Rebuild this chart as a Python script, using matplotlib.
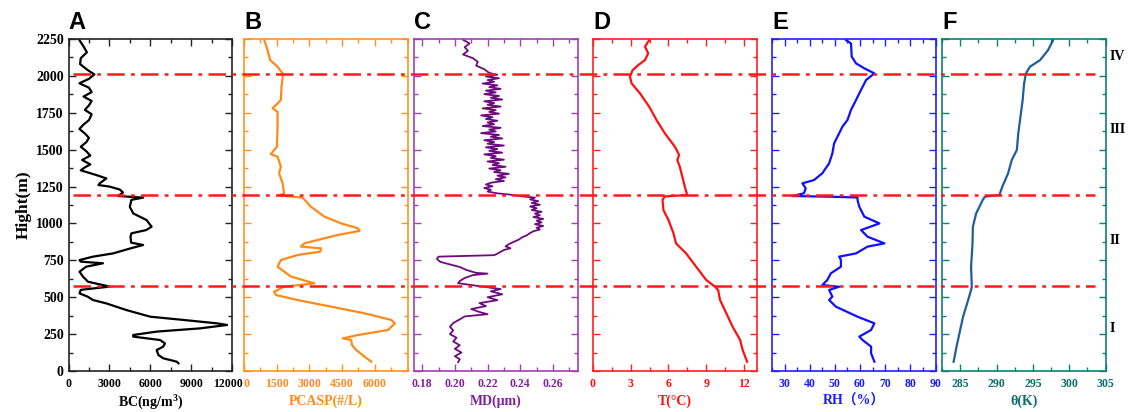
import numpy as np
import matplotlib
matplotlib.use('Agg')
import matplotlib.pyplot as plt
from matplotlib.ticker import MultipleLocator
from matplotlib.transforms import blended_transform_factory, ScaledTranslation

# ---- data (height in m) ----
bc_h = [2250, 2200, 2160, 2120, 2080, 2040, 2010, 1980, 1950, 1920, 1890, 1860, 1830, 1800,
        1770, 1740, 1700, 1670, 1640, 1610, 1580, 1550, 1520, 1490, 1460, 1430, 1400, 1380,
        1360, 1328, 1305, 1272, 1260, 1250, 1230, 1210, 1186, 1175, 1160, 1113, 1068, 1023,
        978, 955, 933, 910, 870, 854, 831, 797, 775, 752, 741, 730, 707, 673, 640, 605, 572,
        550, 526, 504, 481, 458, 413, 368, 346, 323, 312, 289, 267, 244, 233, 210, 187, 165,
        142, 108, 86, 63, 52]
bc_v = [750, 1100, 1350, 900, 850, 1400, 1900, 1500, 800, 1500, 1700, 1100, 1700, 1500,
        1200, 1700, 1500, 1100, 800, 1200, 1500, 1300, 900, 1300, 1600, 1000, 1600, 1200,
        900, 2040, 2780, 2290, 2200, 3000, 3760, 4000, 3640, 5480, 4620, 4500, 4750, 5730,
        6100, 5700, 4620, 4550, 4600, 5480, 4550, 3270, 1800, 810, 900, 2530, 1300, 810, 1060,
        1430, 3030, 900, 810, 1400, 1800, 2780, 4250, 6000, 8440, 10900, 11640, 9670, 6470,
        4750, 4750, 6720, 7080, 6950, 6470, 6600, 6960, 7950, 8070]

pcasp_h = [2248, 2175, 2107, 2062, 2017, 1983, 1927, 1836, 1780, 1757, 1656, 1520, 1470,
           1452, 1385, 1340, 1272, 1204, 1190, 1175, 1113, 1046, 1000, 967, 949, 922, 865,
           843, 831, 809, 786, 752, 707, 640, 594, 571, 537, 515, 481, 436, 391, 346, 323,
           278, 244, 221, 210, 176, 142, 97, 63]
pcasp_v = [920, 1080, 1200, 1540, 1770, 1770, 1720, 1690, 1310, 1540, 1540, 1510, 1230,
           1540, 1690, 1610, 1770, 1840, 1610, 2690, 3070, 3690, 4460, 5230, 5300, 4300,
           2770, 2610, 3540, 3500, 2460, 1690, 1540, 2150, 3230, 1840, 1380, 1460, 2460,
           4000, 5530, 6760, 6920, 6610, 5230, 4530, 4920, 4950, 5150, 5530, 5840]

md_h = [2245, 2220, 2195, 2170, 2145, 2120, 2095, 2070, 2045,
        2020, 2008, 1996, 1984, 1972, 1960, 1948, 1936, 1924, 1912, 1900, 1888, 1876, 1864,
        1852, 1840, 1828, 1816, 1804, 1792, 1780, 1768, 1756, 1744, 1732, 1720, 1708, 1696,
        1684, 1672, 1660, 1648, 1636, 1624, 1612, 1600, 1588, 1576, 1564, 1552, 1540, 1528,
        1516, 1504, 1492, 1480, 1468, 1456, 1444, 1432, 1420, 1408, 1396, 1384, 1372, 1360,
        1348, 1336, 1324, 1312, 1300, 1288, 1276, 1264, 1252, 1240, 1228, 1216, 1204,
        1195, 1185, 1175, 1163, 1151, 1139, 1127, 1115, 1103, 1091, 1079, 1067, 1055, 1043,
        1031, 1019, 1007, 995, 983, 971, 959, 947, 935, 920, 905, 890, 875, 860, 845, 832,
        820, 808, 795, 785, 775, 760, 740, 725, 705, 685, 665, 660, 650, 630, 610, 595, 575,
        555, 540, 520, 500, 480, 460, 440, 420, 400, 385, 370, 350, 325, 300, 275, 250, 225,
        200, 175, 150, 125, 100, 80, 60]
md_v = [0.205, 0.209, 0.206, 0.208, 0.205, 0.211, 0.214, 0.213, 0.218,
        0.221, 0.226, 0.219, 0.227, 0.220, 0.224, 0.217, 0.226, 0.221, 0.228, 0.219, 0.225,
        0.218, 0.227, 0.222, 0.229, 0.218, 0.224, 0.220, 0.228, 0.217, 0.225, 0.221, 0.227,
        0.216, 0.223, 0.219, 0.226, 0.220, 0.224, 0.217, 0.228, 0.221, 0.225, 0.216, 0.227,
        0.222, 0.229, 0.218, 0.224, 0.220, 0.230, 0.219, 0.226, 0.221, 0.229, 0.218, 0.225,
        0.222, 0.230, 0.220, 0.227, 0.223, 0.231, 0.221, 0.228, 0.224, 0.233, 0.226, 0.231,
        0.225, 0.230, 0.222, 0.219, 0.223, 0.218, 0.222, 0.220, 0.226,
        0.234, 0.240, 0.249, 0.246, 0.251, 0.247, 0.252, 0.246, 0.250, 0.247, 0.253, 0.249,
        0.252, 0.248, 0.254, 0.250, 0.253, 0.249, 0.254, 0.250, 0.252, 0.248, 0.246, 0.244,
        0.241, 0.239, 0.236, 0.233, 0.231, 0.234, 0.230, 0.228, 0.226, 0.224, 0.190, 0.189,
        0.191, 0.196, 0.203, 0.207, 0.213, 0.220, 0.211, 0.206, 0.203, 0.202, 0.215, 0.228,
        0.222, 0.229, 0.220, 0.226, 0.215, 0.219, 0.210, 0.215, 0.220, 0.206, 0.203, 0.199,
        0.197, 0.199, 0.197, 0.201, 0.199, 0.203, 0.200, 0.204, 0.200, 0.203, 0.202]

t_h = [2243, 2198, 2153, 2107, 2073, 2039, 1994, 1949, 1882, 1791, 1701, 1611, 1520, 1464,
       1430, 1385, 1317, 1249, 1193, 1183, 1159, 1091, 1023, 933, 865, 797, 707, 617, 571,
       549, 481, 391, 300, 210, 142, 63]
t_v = [4.47, 4.13, 4.39, 4.13, 3.6, 3.15, 2.94, 3.07, 3.73, 4.47, 5.05, 5.71, 6.51, 6.85,
       6.7, 6.9, 7.1, 7.3, 7.49, 5.7, 5.53, 5.6, 6.0, 6.4, 6.6, 7.4, 8.2, 9.0, 9.7, 9.95,
       10.1, 10.6, 11.1, 11.7, 11.9, 12.25]

rh_h = [2243, 2220, 2130, 2085, 2051, 2017, 1972, 1882, 1836, 1769, 1701, 1656, 1611, 1543,
        1475, 1407, 1340, 1294, 1272, 1238, 1204, 1186, 1181, 1176, 1159, 1113, 1046, 1000,
        955, 910, 865, 843, 797, 775, 752, 707, 662, 617, 583, 571, 549, 504, 481, 436, 368,
        323, 278, 233, 210, 165, 120, 63]
rh_v = [54.4, 56.4, 56.7, 58.4, 61.7, 65.7, 62.4, 59.7, 58.4, 56.4, 55.0, 53.0, 51.7, 49.7,
        49.0, 47.7, 45.0, 41.7, 37.1, 38.4, 37.7, 33.0, 48.4, 59.0, 59.0, 59.7, 61.7, 67.7,
        60.4, 63.0, 69.7, 63.0, 58.4, 51.7, 52.4, 52.4, 48.4, 47.0, 45.0, 51.7, 47.7, 49.0,
        47.7, 50.4, 59.0, 65.7, 64.4, 59.7, 61.0, 64.4, 64.4, 65.7]

th_h = [2243, 2175, 2107, 2062, 2017, 1949, 1836, 1724, 1611, 1498, 1430, 1340, 1249, 1193,
        1181, 1159, 1068, 978, 865, 707, 571, 549, 481, 368, 255, 165, 63]
th_v = [297.8, 297.1, 296.0, 294.6, 294.05, 293.8, 293.6, 293.3, 293.0, 292.8, 292.1, 291.6,
        290.8, 290.4, 288.4, 288.1, 287.2, 286.75, 286.7, 286.5, 286.6, 286.5, 286.1, 285.4,
        284.9, 284.5, 284.1]

letters = ['A', 'B', 'C', 'D', 'E', 'F']
xlabels = ['BC(ng/m$\\mathregular{^3}$)', 'PCASP(#/L)', 'MD(\u03bcm)', 'T(\u00b0C)',
           'RH\uff08%\uff09', '\u03b8(K)']
xlims = [(0, 12000), (0, 7500), (0.175, 0.275), (0, 13), (25, 90), (282.5, 305)]
xmajor = [3000, 1500, 0.02, 3, 10, 5]
xfirst = [0, 0, 0.18, 0, 30, 285]
xlast = [12000, 6000, 0.26, 12, 90, 305]
xfmt = ['%d', '%d', '%.2f', '%d', '%d', '%d']
profiles = [(bc_v, bc_h), (pcasp_v, pcasp_h), (md_v, md_h), (t_v, t_h), (rh_v, rh_h), (th_v, th_h)]

boundaries = [575, 1190, 2010]
layer_names = ['I', 'II', 'III', 'IV']
layer_y = [290, 885, 1640, 2130]

spine_col = ['#222222', '#FF9225', '#A040B0', '#FF2020', '#2020FF', '#0E7E78']
line_col = ['#000000', '#FF8A1A', '#6E0A80', '#FF1010', '#1010FF', '#1F5E9E']
text_col = ['#000000', '#FF8A1A', '#80209A', '#FF1010', '#1A1AFF', '#0B6E6A']
line_w = [1.6, 1.6, 1.3, 1.6, 1.6, 1.6]

lefts = [68.5, 244, 414, 593, 772, 942]
width = 163.5
W, H = 1129, 412
bottom, top = 371, 39

serif = 'Liberation Serif'

fig = plt.figure(figsize=(W / 100, H / 100), dpi=100)
axes = []
for i in range(6):
    ax = fig.add_axes([lefts[i] / W, 1 - bottom / H, width / W, (bottom - top) / H])
    x, h = profiles[i]
    ax.plot(x, h, color=line_col[i], lw=line_w[i])
    ax.set_xlim(*xlims[i])
    ax.set_ylim(0, 2250)
    ticks = np.arange(xfirst[i], xlast[i] + 1e-9, xmajor[i])
    ax.set_xticks(ticks)
    ax.set_xticklabels([xfmt[i] % t for t in ticks])
    ax.xaxis.set_minor_locator(MultipleLocator(xmajor[i] / 2))
    ax.yaxis.set_major_locator(MultipleLocator(250))
    ax.yaxis.set_minor_locator(MultipleLocator(125))
    ax.tick_params(which='both', direction='in', top=True, right=True,
                   color=spine_col[i], width=1.0)
    ax.tick_params(which='major', length=5)
    ax.tick_params(which='minor', length=3)
    ax.tick_params(axis='x', pad=5, labelcolor=text_col[i])
    for sp in ax.spines.values():
        sp.set_color(spine_col[i])
        sp.set_linewidth(1.2)
    for lab in ax.get_xticklabels():
        lab.set_fontfamily(serif)
        lab.set_fontweight('bold')
        lab.set_fontsize(8.5)
    if i == 0:
        for lab in ax.get_yticklabels():
            lab.set_fontfamily(serif)
            lab.set_fontweight('bold')
            lab.set_fontsize(10)
        ax.set_ylabel('Hight(m)', fontfamily=serif, fontweight='bold', fontsize=12.5, labelpad=3)
    else:
        ax.set_yticklabels([])
    ax.set_xlabel(xlabels[i], family=[serif, 'Noto Sans CJK SC'], fontweight='bold',
                  fontsize=10, color=text_col[i], labelpad=3)
    ax.text(0.0, 1.015, letters[i], transform=ax.transAxes, ha='left', va='bottom',
            fontfamily='Liberation Sans', fontweight='bold', fontsize=17)
    axes.append(ax)

# the last BC label sits a little left of its tick in the original, the first PCASP one a little right
last_a = axes[0].get_xticklabels()[-1]
last_a.set_transform(last_a.get_transform() + ScaledTranslation(-4 / 100, 0, fig.dpi_scale_trans))
first_b = axes[1].get_xticklabels()[0]
first_b.set_transform(first_b.get_transform() + ScaledTranslation(2 / 100, 0, fig.dpi_scale_trans))

# layer names on the right of panel F
trans = blended_transform_factory(axes[5].transAxes, axes[5].transData)
for name, y in zip(layer_names, layer_y):
    axes[5].text(1.025, y, name, transform=trans, ha='left', va='center',
                 fontfamily=serif, fontweight='bold', fontsize=10, clip_on=False)

# dash-dot boundaries across all panels
over = fig.add_axes([lefts[0] / W, 1 - bottom / H, (lefts[5] + width - lefts[0]) / W,
                     (bottom - top) / H], facecolor='none')
over.set_ylim(0, 2250)
over.set_xlim(0, 1)
over.axis('off')
for b in boundaries:
    over.axhline(b, xmin=0.004, xmax=0.99, color='#FF1A1A', lw=1.8, ls=(0, (7, 2.5, 1.5, 2.5)))

fig.savefig('out.png', dpi=100)
